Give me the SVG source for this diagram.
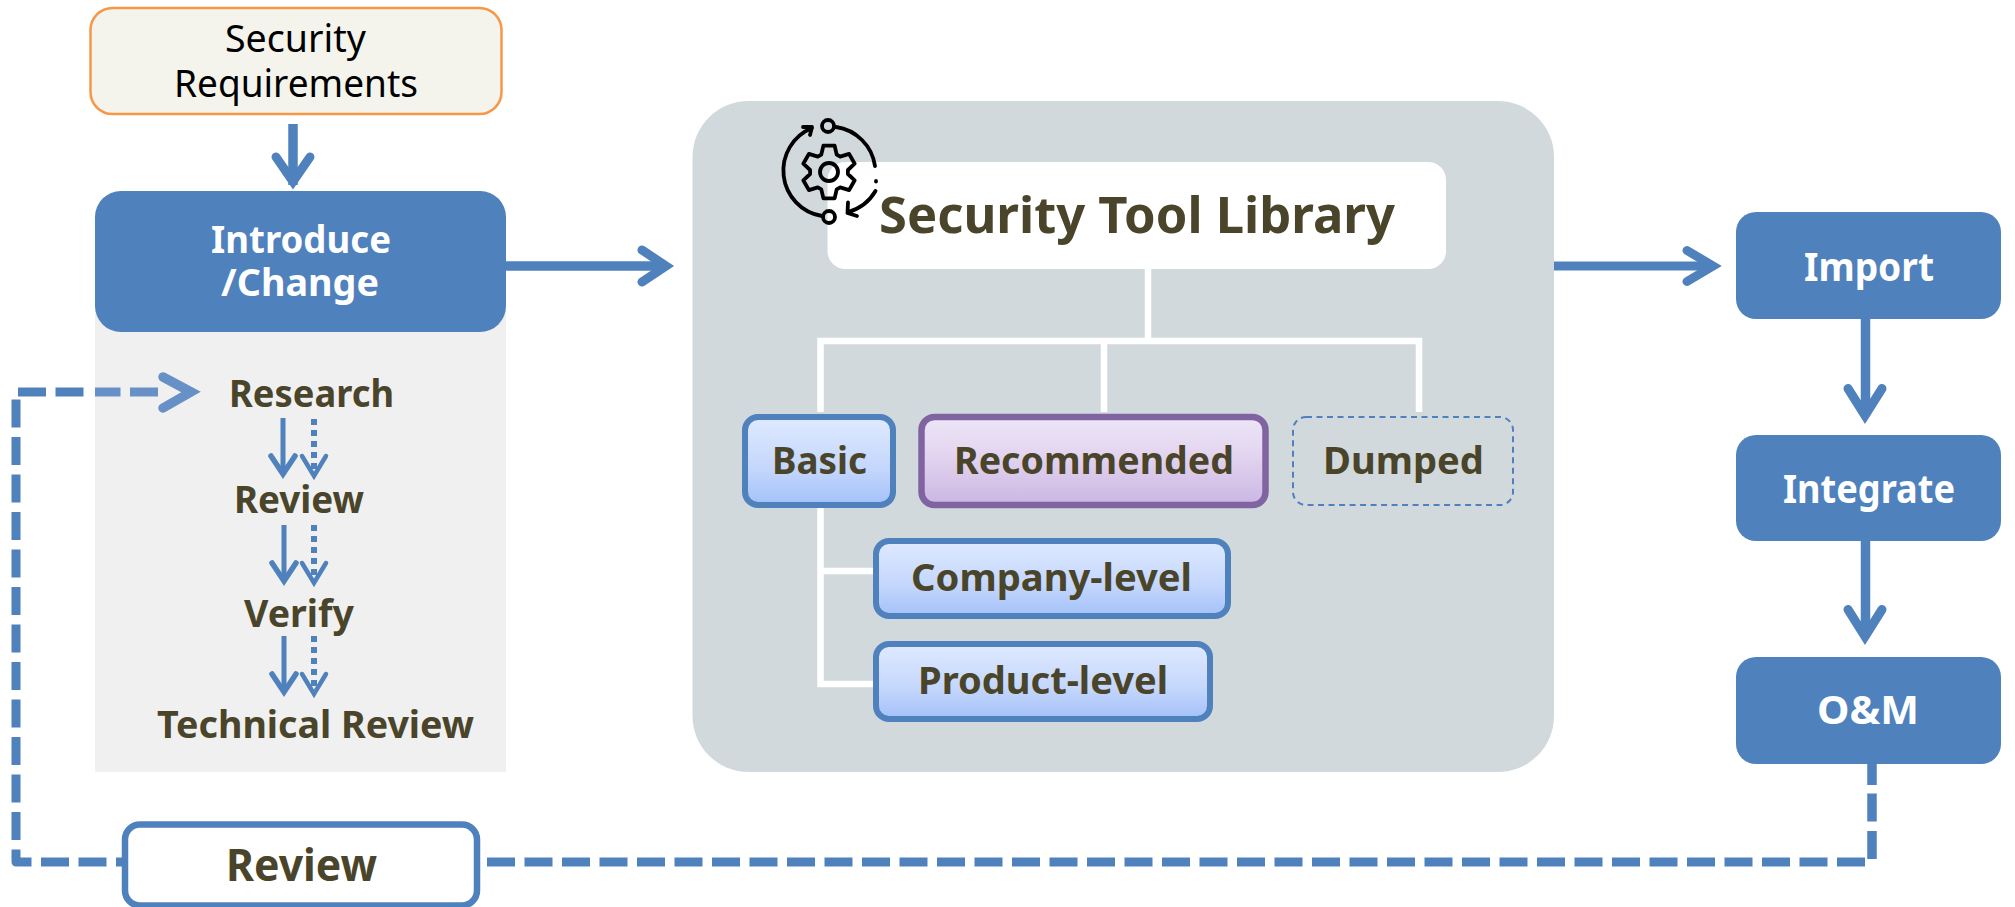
<svg xmlns="http://www.w3.org/2000/svg" width="2015" height="907" viewBox="0 0 2015 907">
<style>
text{font-family:"Noto Sans","Open Sans","Liberation Sans",sans-serif;font-weight:700;fill:#4a452a}
.w{fill:#fff}
.k{fill:#000;font-weight:400}
.l{fill:none;stroke:#4f81bd;stroke-miterlimit:10}
.h{stroke-linecap:round;stroke-linejoin:miter}
.t{fill:none;stroke:#fff;stroke-width:6.500}
.b{fill:#4f81bd}
.ic{fill:none;stroke:#000;stroke-width:3.8;stroke-linecap:round;stroke-linejoin:round}
</style>
<defs>
<linearGradient id="gb" x1="0" y1="0" x2="0" y2="1"><stop offset="0" stop-color="#dfeaff"/><stop offset=".6" stop-color="#c3d6fc"/><stop offset="1" stop-color="#a3c1f9"/></linearGradient>
<linearGradient id="gp" x1="0" y1="0" x2="0" y2="1"><stop offset="0" stop-color="#ede6f7"/><stop offset=".4" stop-color="#e4d6f0"/><stop offset="1" stop-color="#cbb6e3"/></linearGradient>
</defs>
<rect x="95" y="300" width="411" height="472" fill="#f0f0f0"/>
<rect x="692.500" y="101" width="861.500" height="671" rx="56" fill="#d2d9dd"/>
<g id="connectors">
<path class="l" stroke-width="9.500" d="M293 124V185"/>
<polyline class="l h" stroke-width="9" points="276,157 293,181.500 310,157"/>
<path class="l" stroke-width="9.500" d="M506 266H664"/>
<polyline class="l h" stroke-width="9" points="642,250 666,266 642,282"/>
<path class="l" stroke-width="9" d="M1554 266H1713"/>
<polyline class="l h" stroke-width="9" points="1687,250.500 1713,266 1687,281.500"/>
<path class="l" stroke-width="9.500" d="M1865.500 319V415"/>
<polyline class="l h" stroke-width="9" points="1848,388.500 1865,415.500 1882,388.500"/>
<path class="l" stroke-width="9.500" d="M1865.500 541V636"/>
<polyline class="l h" stroke-width="9" points="1848,609.500 1865,636.500 1882,609.500"/>
<path class="l" stroke-width="9.500" stroke-dasharray="21 8.500 28 9.500 28" d="M1872 764V860"/>
<path class="l" stroke-width="9" stroke-dasharray="28 9.500" d="M1865 862H480"/>
<path class="l" stroke-width="9" stroke-linejoin="round" stroke-dasharray="28 9.500" d="M83.500 392H16V862H124"/>
<path fill="none" stroke="#6790c6" stroke-width="9" stroke-dasharray="28 9.500" d="M158 392H95"/>
<polyline fill="none" stroke="#6790c6" stroke-width="9.500" stroke-linecap="round" points="163,377 191,392 163,408"/>
<path class="l" stroke-width="5" d="M283 418V472"/>
<polyline class="l h" stroke-width="5.500" points="271,456 283,474 295,456"/>
<path class="l" stroke-width="6" stroke-dasharray="6 5" d="M314 419V475"/>
<polyline class="l h" stroke-width="4.500" points="302,456 314,476 326,456"/>
<path class="l" stroke-width="5" d="M284 525V580"/>
<polyline class="l h" stroke-width="5.500" points="272,563 284,581 296,563"/>
<path class="l" stroke-width="6" stroke-dasharray="6 5" d="M314 525V582"/>
<polyline class="l h" stroke-width="4.500" points="302,563 314,583 326,563"/>
<path class="l" stroke-width="5" d="M284 636V691"/>
<polyline class="l h" stroke-width="5.500" points="272,674 284,692 296,674"/>
<path class="l" stroke-width="6" stroke-dasharray="6 5" d="M314 636V693"/>
<polyline class="l h" stroke-width="4.500" points="302,674 314,694 326,674"/>
<path class="t" d="M1148 269V341"/>
<path class="t" d="M820.500 412V341H1419V412M1104 341V412"/>
<path class="t" d="M820.500 507V684H873M820.500 571H873"/>
</g>
<g id="security-requirements">
<rect x="90.500" y="8" width="411" height="106" rx="22" fill="#f5f4ec" stroke="#f79646" stroke-width="2.500"/>
<text class="k" x="225" y="52" font-size="39" textLength="141" lengthAdjust="spacingAndGlyphs">Security</text>
<text class="k" x="174" y="97" font-size="39" textLength="244" lengthAdjust="spacingAndGlyphs">Requirements</text>
</g>
<g id="introduce-change">
<rect class="b" x="95" y="191" width="411" height="141" rx="26"/>
<text class="w" x="211" y="253" font-size="38" textLength="180" lengthAdjust="spacingAndGlyphs">Introduce</text>
<text class="w" x="221" y="296" font-size="38" textLength="158" lengthAdjust="spacingAndGlyphs">/Change</text>
</g>
<g id="research"><text x="229" y="407" font-size="38" textLength="165" lengthAdjust="spacingAndGlyphs">Research</text></g>
<g id="review-step"><text x="234" y="513" font-size="38" textLength="130" lengthAdjust="spacingAndGlyphs">Review</text></g>
<g id="verify"><text x="244" y="627" font-size="38" textLength="110" lengthAdjust="spacingAndGlyphs">Verify</text></g>
<g id="technical-review"><text x="157" y="738" font-size="38" textLength="317" lengthAdjust="spacingAndGlyphs">Technical Review</text></g>
<g id="review">
<rect x="125" y="824.500" width="352" height="81" rx="15" fill="#fff" stroke="#4f81bd" stroke-width="6.500"/>
<text x="226" y="881" font-size="44" textLength="151" lengthAdjust="spacingAndGlyphs">Review</text>
</g>
<g id="security-tool-library">
<rect x="827.500" y="162" width="618.500" height="107" rx="18" fill="#fff"/>
<text x="879" y="233" font-size="51" textLength="516" lengthAdjust="spacingAndGlyphs">Security Tool Library</text>
</g>
<g id="icon" class="ic">
<circle cx="828" cy="126" r="6"/><circle cx="829" cy="217" r="6"/><circle cx="829" cy="172" r="9"/>
<polygon transform="translate(829 172)" points="-7.700,-17.400 -5.600,-26.400 5.600,-26.400 7.700,-17.400 11.200,-15.400 20.100,-18.100 25.700,-8.300 18.900,-2 18.900,2 25.700,8.300 20.100,18.100 11.200,15.400 7.700,17.400 5.600,26.400 -5.600,26.400 -7.700,17.400 -11.200,15.400 -20.100,18.100 -25.700,8.300 -18.900,2 -18.900,-2 -25.700,-8.300 -20.100,-18.100 -11.200,-15.400"/>
<path d="M836 127A46 46 0 0 1 875 166M876 181V181.500M875.500 191A46 46 0 0 1 848 212M848 202.500L847.500 213L857 216"/>
<path d="M822 216A46 46 0 0 1 812 128M803 127L812 127L810 135"/>
</g>
<g id="basic">
<rect x="745" y="417" width="148" height="88" rx="13" fill="url(#gb)" stroke="#4f81bd" stroke-width="6"/>
<text x="772" y="474" font-size="38" textLength="95" lengthAdjust="spacingAndGlyphs">Basic</text>
</g>
<g id="recommended">
<rect x="921.500" y="417" width="344" height="88" rx="13" fill="url(#gp)" stroke="#8064a2" stroke-width="6.500"/>
<text x="954" y="474" font-size="38" textLength="280" lengthAdjust="spacingAndGlyphs">Recommended</text>
</g>
<g id="dumped">
<rect x="1293" y="417" width="220" height="88" rx="13" fill="none" stroke="#4f81bd" stroke-width="2" stroke-dasharray="6 4.500"/>
<text x="1323" y="474" font-size="38" textLength="161" lengthAdjust="spacingAndGlyphs">Dumped</text>
</g>
<g id="company-level">
<rect x="876" y="541" width="352" height="75" rx="13" fill="url(#gb)" stroke="#4f81bd" stroke-width="6"/>
<text x="911" y="591" font-size="38" textLength="281" lengthAdjust="spacingAndGlyphs">Company-level</text>
</g>
<g id="product-level">
<rect x="876" y="644" width="334" height="75" rx="13" fill="url(#gb)" stroke="#4f81bd" stroke-width="6"/>
<text x="918" y="694" font-size="38" textLength="250" lengthAdjust="spacingAndGlyphs">Product-level</text>
</g>
<g id="import">
<rect class="b" x="1736" y="212" width="265" height="107" rx="20"/>
<text class="w" x="1804" y="281" font-size="39" textLength="130" lengthAdjust="spacingAndGlyphs">Import</text>
</g>
<g id="integrate">
<rect class="b" x="1736" y="435" width="265" height="106" rx="20"/>
<text class="w" x="1783" y="503" font-size="39" textLength="172" lengthAdjust="spacingAndGlyphs">Integrate</text>
</g>
<g id="om">
<rect class="b" x="1736" y="657" width="265" height="107" rx="20"/>
<text class="w" x="1817" y="724" font-size="39" textLength="102" lengthAdjust="spacingAndGlyphs">O&amp;M</text>
</g>
</svg>
